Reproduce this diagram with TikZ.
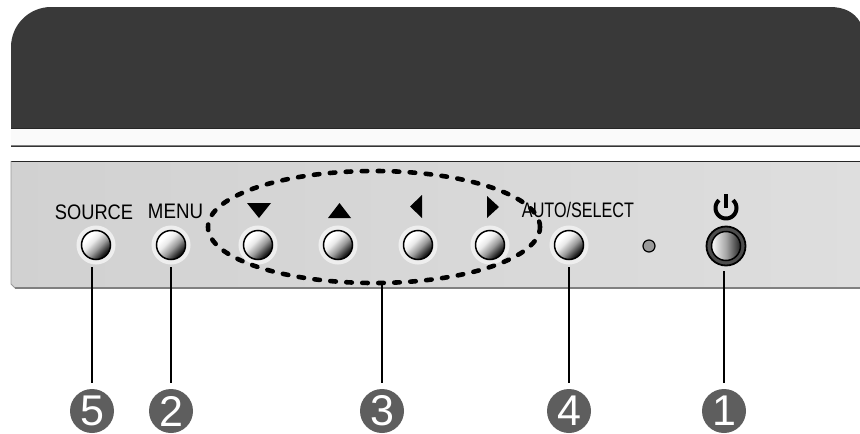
\documentclass[tikz,border=0pt]{standalone}
\usepackage{fontspec}
\setmainfont{Liberation Sans}
\usetikzlibrary{shapes, positioning, calc}
\definecolor{bezel}{HTML}{393939}
\definecolor{bubble}{HTML}{5E5E5E}
\definecolor{halo}{HTML}{EEEEEE}
\pgfdeclareverticalshading{btnshade}{100bp}{color(0bp)=(black);color(29bp)=(black!90);color(44bp)=(gray!80);color(58bp)=(black!8);color(68bp)=(white);color(100bp)=(white)}
\pgfdeclarehorizontalshading{pwrshade}{100bp}{color(0bp)=(black!5);color(28bp)=(black!5);color(50bp)=(black!35);color(72bp)=(black!80);color(100bp)=(black!80)}

\begin{document}
\begin{tikzpicture}[x=1pt, y=-1pt,
button/.style={circle, draw=black, line width=1.5pt, minimum size=29pt, inner sep=0pt, shading=btnshade, shading angle=45, preaction={draw=halo, line width=10pt}},
caption/.style={inner sep=0pt, anchor=base, font=\fontsize{21}{21}\selectfont},
bubblenum/.style={circle, fill=bubble, minimum size=44pt, inner sep=0pt, text=white, font=\fontsize{43}{43}\selectfont},
leader/.style={line width=2.4pt, shorten <=7pt, shorten >=6pt}]

\useasboundingbox (0,0) rectangle (860,434);

% BODY

\fill[bezel] (11,128) -- (11,47) .. controls (11,25) and (29,7) .. (51,7) -- (830,7) .. controls (844,7) and (854,12) .. (860,22) -- (860,128) -- cycle;
\draw[black!85, line width=1pt] (11,128.5) -- (860,128.5);
\fill[black!2] (11,129) rectangle (860,145);
\draw[gray, line width=1pt] (11,145.5) -- (860,145.5);
\draw[black!80, line width=1pt] (11,146.5) -- (860,146.5);
\shade[left color=black!18, right color=black!13] (11,161) -- (860,161) -- (860,288) -- (15,288) -- (11,284) -- cycle;
\draw[black!85, line width=1pt] (11,161.5) -- (860,161.5);
\draw[black!50, line width=2pt] (15,288) -- (860,288);
\draw[black!40, line width=.8pt] (11,161) -- (11,284) -- (15,288);

% BUTTONS

\node[button] (source) at (96,245) {};
\node[button] (menu) at (171,245) {};
\node[button] (down) at (258,245) {};
\node[button] (up) at (338,245) {};
\node[button] (left) at (418,245) {};
\node[button] (right) at (490,245) {};
\node[button] (auto) at (569,245) {};
\node[circle, draw=black, line width=1.2pt, fill=black!40, minimum size=12pt, inner sep=0pt] (led) at (649,246) {};
\node[circle, draw=black, fill=black!70, line width=1.8pt, minimum size=39pt, inner sep=0pt] (powerring) at (726,246) {};
\node[circle, draw=black, line width=1.5pt, shading=pwrshade, minimum size=29pt, inner sep=0pt] (power) at (726,246) {};

% LABELS

\node[caption, xscale=.87] (sourcetext) at (94,219) {SOURCE};
\node[caption, xscale=.89] (menutext) at (175.5,218) {MENU};
\node[caption, xscale=.77] (autotext) at (578,217) {AUTO/SELECT};

\fill (247,203) -- (271,203) -- (259,218) -- cycle;
\fill (328,218) -- (351,218) -- (339.5,203) -- cycle;
\fill (422,195) -- (422,218) -- (410,206.5) -- cycle;
\fill (487,196) -- (487,218) -- (499,207) -- cycle;
\draw[line width=4pt, shift={(726,208)}] plot[domain=-48:228, smooth, samples=30] ({10.5*cos(\x)},{10.5*sin(\x)});
\draw[line width=3.6pt] (726,194) -- (726,208);

% GROUP

\node[ellipse, draw=black, line width=4.6pt, dash pattern=on 5.5pt off 10.5pt, line cap=round, minimum width=332pt, minimum height=112pt, inner sep=0pt] (group) at (374,227) {};

% NUMBERS

\node[bubblenum] (nsource) at (92,411) {5};
\node[bubblenum] (nmenu) at (171,411) {2};
\node[bubblenum] (ngroup) at (382,411) {3};
\node[bubblenum] (nauto) at (569,411) {4};
\node[bubblenum] (npower) at (724,411) {1};

\draw[leader] (nsource.north |- source.south) -- (nsource.north);
\draw[leader] (nmenu.north |- menu.south) -- (nmenu.north);
\draw[leader, shorten <=0pt] (ngroup.north |- group.south) -- (ngroup.north);
\draw[leader] (nauto.north |- auto.south) -- (nauto.north);
\draw[leader, shorten <=10pt] (npower.north |- power.south) -- (npower.north);

\end{tikzpicture}
\end{document}
